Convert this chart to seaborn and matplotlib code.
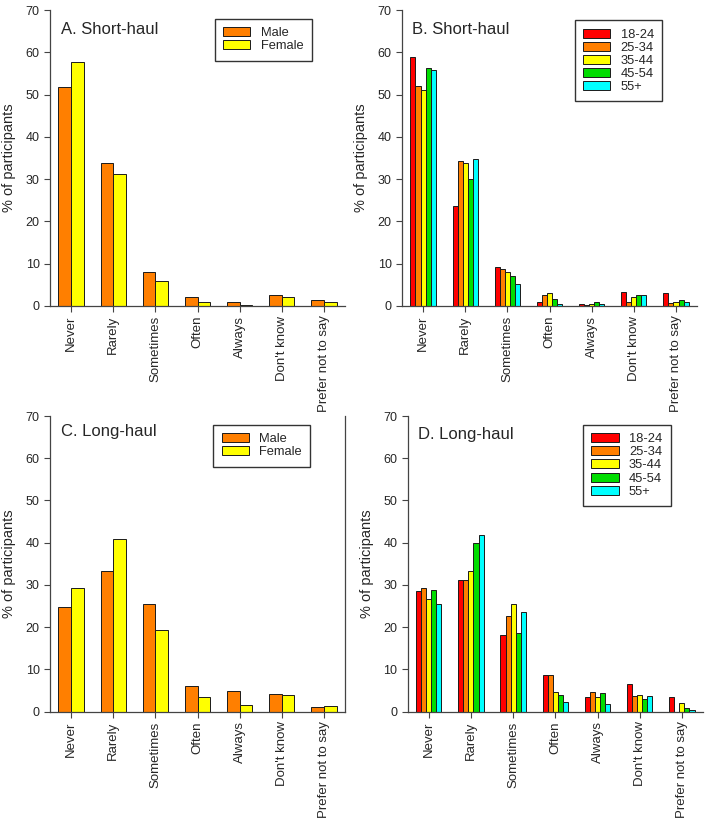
import pandas as pd
import matplotlib.pyplot as plt
import seaborn as sns

# response categories (x axis)
categories = ["Never", "Rarely", "Sometimes", "Often", "Always", "Don't know", "Prefer not to say"]

genders = ["Male", "Female"]
ages = ["18-24", "25-34", "35-44", "45-54", "55+"]

# A. Short-haul by gender
a_male = [51.7, 33.7, 8.0, 2.0, 0.9, 2.5, 1.3]
a_female = [57.8, 31.3, 5.9, 1.0, 0.2, 2.1, 1.0]

# B. Short-haul by age
b_18_24 = [59.0, 23.6, 9.3, 1.0, 0.4, 3.3, 3.0]
b_25_34 = [52.1, 34.3, 8.6, 2.6, 0.3, 1.0, 0.6]
b_35_44 = [51.2, 33.9, 7.9, 3.1, 0.5, 2.1, 0.9]
b_45_54 = [56.4, 29.9, 7.1, 1.7, 0.8, 2.5, 1.4]
b_55 = [55.9, 34.8, 5.2, 0.4, 0.5, 2.5, 0.8]

# C. Long-haul by gender
c_male = [24.8, 33.2, 25.6, 6.1, 5.0, 4.2, 1.2]
c_female = [29.4, 40.9, 19.4, 3.4, 1.7, 3.9, 1.3]

# D. Long-haul by age
d_18_24 = [28.5, 31.2, 18.2, 8.6, 3.4, 6.5, 3.4]
d_25_34 = [29.2, 31.1, 22.7, 8.6, 4.6, 3.8, 0.0]
d_35_44 = [26.7, 33.4, 25.5, 4.6, 3.5, 4.0, 2.0]
d_45_54 = [28.8, 40.0, 18.6, 3.9, 4.5, 3.1, 0.9]
d_55 = [25.5, 41.9, 23.6, 2.4, 1.9, 3.8, 0.5]

gender_colors = ["#FF7F00", "#FFFF00"]
age_colors = ["#FF0000", "#FF7F00", "#FFFF00", "#00DD00", "#00FFFF"]


def long_df(groups, series):
    rows = []
    for g, vals in zip(groups, series):
        for c, v in zip(categories, vals):
            rows.append({"response": c, "group": g, "pct": v})
    return pd.DataFrame(rows)


sns.set_style("ticks")
plt.rcParams["font.family"] = ["Liberation Sans", "DejaVu Sans"]

fig = plt.figure(figsize=(7.11, 8.22), dpi=100)


def draw_panel(rect, df, groups, colors, title, title_pos, leg_pos, right_spine=False):
    ax = fig.add_axes(rect)
    sns.barplot(data=df, x="response", y="pct", hue="group", order=categories,
                hue_order=groups, palette=colors, width=0.6, gap=0, saturation=1,
                edgecolor="#1a1a1a", linewidth=0.7, errorbar=None, ax=ax)
    ax.set_xlim(-0.5, 6.5)
    ax.set_ylim(0, 70)
    ax.set_yticks(range(0, 71, 10))
    ax.set_xlabel("")
    ax.set_ylabel("% of participants", fontsize=10.5, labelpad=7)
    ax.tick_params(axis="y", labelsize=9, length=4, width=0.8, color="#444444")
    ax.tick_params(axis="x", labelsize=9.5, rotation=90, length=4, width=0.8,
                   color="#444444", pad=3)
    for s in ax.spines.values():
        s.set_color("#444444")
        s.set_linewidth(0.9)
    sns.despine(ax=ax, right=not right_spine)
    ax.text(title_pos[0], title_pos[1], title, transform=ax.transAxes,
            fontsize=12, va="center", ha="left")
    handles, labels = ax.get_legend_handles_labels()
    leg = ax.legend(handles, labels, loc="upper left", bbox_to_anchor=leg_pos,
                    borderaxespad=0, fontsize=9.3, fancybox=False, framealpha=1,
                    edgecolor="#333333", handlelength=2.1, handleheight=0.7,
                    handletextpad=0.8, labelspacing=0.08, borderpad=0.65)
    leg.get_frame().set_linewidth(1.0)
    return ax


draw_panel([0.0703, 0.628, 0.415, 0.3597], long_df(genders, [a_male, a_female]),
           genders, gender_colors, "A. Short-haul", (0.037, 0.936), (0.559, 0.970))
draw_panel([0.5654, 0.628, 0.415, 0.3597],
           long_df(ages, [b_18_24, b_25_34, b_35_44, b_45_54, b_55]),
           ages, age_colors, "B. Short-haul", (0.034, 0.934), (0.586, 0.966))
draw_panel([0.0703, 0.1342, 0.415, 0.3597], long_df(genders, [c_male, c_female]),
           genders, gender_colors, "C. Long-haul", (0.037, 0.946), (0.553, 0.970),
           right_spine=True)
draw_panel([0.5734, 0.1342, 0.4153, 0.3597],
           long_df(ages, [d_18_24, d_25_34, d_35_44, d_45_54, d_55]),
           ages, age_colors, "D. Long-haul", (0.035, 0.939), (0.594, 0.970))

fig.savefig("out.png", dpi=100)
